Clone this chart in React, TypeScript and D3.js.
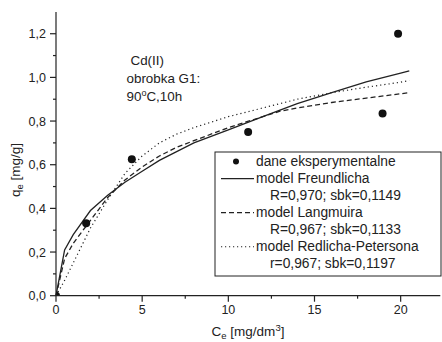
import React from "react";
import * as d3 from "d3";

const expC = [0, 1.75, 4.4, 11.15, 18.95, 19.85];
const expQ = [0, 0.332, 0.625, 0.75, 0.835, 1.2];

const modelC = [0, 0.5, 1, 2, 3, 4, 5, 6, 7, 8, 10, 12, 13, 14, 16, 18, 20, 20.5];
const freundQ = [0, 0.21, 0.28, 0.39, 0.46, 0.52, 0.57, 0.62, 0.66, 0.70, 0.76, 0.82, 0.85, 0.88, 0.93, 0.98, 1.02, 1.03];
const langQ = [0, 0.17, 0.24, 0.345, 0.45, 0.53, 0.59, 0.64, 0.68, 0.71, 0.77, 0.82, 0.845, 0.86, 0.885, 0.905, 0.925, 0.93];
const redQ = [0, 0.07, 0.15, 0.31, 0.44, 0.56, 0.64, 0.70, 0.74, 0.77, 0.82, 0.86, 0.88, 0.90, 0.93, 0.955, 0.978, 0.985];

const xMajor = [0, 5, 10, 15, 20];
const xMinor = [2.5, 7.5, 12.5, 17.5, 22.5];
const yMajor = [0, 0.2, 0.4, 0.6, 0.8, 1.0, 1.2];
const yMinor = [0.1, 0.3, 0.5, 0.7, 0.9, 1.1];

const legendLabels = [
  "dane eksperymentalne",
  "model Freundlicha",
  "R=0,970; sbk=0,1149",
  "model Langmuira",
  "R=0,967; sbk=0,1133",
  "model Redlicha-Petersona",
  "r=0,967; sbk=0,1197",
];

const W = 442, H = 342;
const FONT = "'Liberation Sans', Arial, sans-serif";
const INK = "#222";

export default function App() {
  const x = d3.scaleLinear().domain([0, 22.3]).range([56, 440.3]);
  const y = d3.scaleLinear().domain([0, 1.3]).range([295.7, 11.9]);
  const line = (vals: number[]) =>
    d3.line<number>().x((_, i) => x(modelC[i])).y((v) => y(v))(vals) || "";
  const fmt = (v: number) => v.toFixed(1).replace(".", ",");

  const legX = 215, legY = 152;
  const rowBase = (i: number) => 166 + i * 17.05;
  const symX0 = 221, symX1 = 254, textX = 256, indentX = 270;

  return (
    <svg width={W} height={H} style={{ position: "absolute", left: 0, top: 0, background: "#fff" }} fontFamily={FONT}>
      <defs>
        <clipPath id="plot">
          <rect x={x(0)} y={0} width={W - x(0)} height={y(0)} />
        </clipPath>
      </defs>
      <rect x={0} y={0} width={W} height={H} fill="#fff" />
      {/* curves */}
      <path d={line(freundQ)} fill="none" stroke={INK} strokeWidth={1.3} />
      <path d={line(langQ)} fill="none" stroke={INK} strokeWidth={1.3} strokeDasharray="5,3" />
      <path d={line(redQ)} fill="none" stroke={INK} strokeWidth={1.2} strokeDasharray="1.2,3" />
      {/* points */}
      <g clipPath="url(#plot)">
        {expC.map((c, i) => (
          <circle key={i} cx={x(c)} cy={y(expQ[i])} r={4} fill="#111" />
        ))}
      </g>
      {/* axes */}
      <line x1={x(0)} x2={x(0)} y1={y(0)} y2={y(1.3)} stroke={INK} strokeWidth={1.2} />
      <line x1={x(0)} x2={x(22.3)} y1={y(0)} y2={y(0)} stroke={INK} strokeWidth={1.2} />
      {xMajor.map((v) => (
        <g key={"xm" + v}>
          <line x1={x(v)} x2={x(v)} y1={y(0)} y2={y(0) + 6} stroke={INK} strokeWidth={1.2} />
          <text x={x(v)} y={314} fontSize={12.5} textAnchor="middle" fill={INK}>{v}</text>
        </g>
      ))}
      {xMinor.filter((v) => x(v) < W).map((v) => (
        <line key={"xn" + v} x1={x(v)} x2={x(v)} y1={y(0)} y2={y(0) + 3} stroke={INK} strokeWidth={1.2} />
      ))}
      {yMajor.map((v) => (
        <g key={"ym" + v}>
          <line x1={x(0) - 6} x2={x(0)} y1={y(v)} y2={y(v)} stroke={INK} strokeWidth={1.2} />
          <text x={46} y={y(v) + 4.5} fontSize={12.5} textAnchor="end" fill={INK}>{fmt(v)}</text>
        </g>
      ))}
      {yMinor.map((v) => (
        <line key={"yn" + v} x1={x(0) - 3} x2={x(0)} y1={y(v)} y2={y(v)} stroke={INK} strokeWidth={1.2} />
      ))}
      {/* axis titles */}
      <text x={248} y={336} fontSize={13.5} textAnchor="middle" fill={INK}>
        C<tspan fontSize={9.5} dy={3}>e</tspan><tspan dy={-3}> [mg/dm</tspan><tspan fontSize={9.5} dy={-5}>3</tspan><tspan dy={5}>]</tspan>
      </text>
      <text transform="translate(20,170) rotate(-90)" fontSize={13.5} textAnchor="middle" fill={INK}>
        q<tspan fontSize={9.5} dy={3}>e</tspan><tspan dy={-3}> [mg/g]</tspan>
      </text>
      {/* annotation */}
      <text x={130.5} y={65} fontSize={13.4} fill={INK}>Cd(II)</text>
      <text x={126.5} y={82.5} fontSize={13.4} fill={INK}>obrobka G1:</text>
      <text x={126.5} y={101} fontSize={13.4} fill={INK}>
        90<tspan fontSize={9} dy={-5}>o</tspan><tspan dy={5}>C,10h</tspan>
      </text>
      {/* legend */}
      <rect x={legX} y={legY} width={441 - legX} height={124} fill="#fff" stroke={INK} strokeWidth={1} />
      <circle cx={236} cy={rowBase(0) - 4.5} r={3} fill="#111" />
      {[1, 3, 5].map((row, k) => (
        <line key={"ls" + row} x1={symX0} x2={symX1} y1={rowBase(row) - 4.5} y2={rowBase(row) - 4.5}
          stroke={INK} strokeWidth={1.2} strokeDasharray={[undefined, "5,3", "1.2,2.8"][k]} />
      ))}
      {legendLabels.map((t, i) => (
        <text key={"lt" + i} x={i % 2 === 0 && i > 0 ? indentX : textX} y={rowBase(i)} fontSize={13.8} fill={INK}>{t}</text>
      ))}
    </svg>
  );
}
